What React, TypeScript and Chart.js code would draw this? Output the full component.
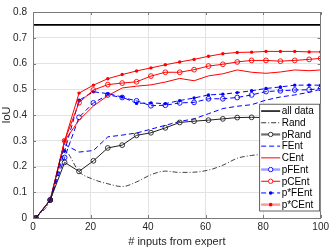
import React, { useEffect, useRef } from "react";
import { Chart, registerables } from "chart.js";
Chart.register(...registerables);

const xInputs = [1, 6, 11, 16, 21, 26, 31, 36, 41, 46, 51, 56, 61, 66, 71, 76, 81, 86, 91, 96, 100];
const allDataLevel = 0.75;
const allDataX = [0, 100];
const randVals = [0, 0.07, 0.26, 0.18, 0.15, 0.133, 0.122, 0.14, 0.168, 0.182, 0.177, 0.178, 0.186, 0.205, 0.232, 0.243, 0.248, 0.255, 0.265, 0.28, 0.293];
const pRandVals = [0, 0.07, 0.216, 0.181, 0.222, 0.272, 0.283, 0.321, 0.331, 0.35, 0.371, 0.376, 0.38, 0.385, 0.39, 0.391, 0.39, 0.39, 0.388, 0.386, 0.383];
const fEntVals = [0, 0.07, 0.285, 0.256, 0.262, 0.315, 0.322, 0.33, 0.345, 0.36, 0.375, 0.385, 0.405, 0.425, 0.434, 0.44, 0.458, 0.47, 0.478, 0.488, 0.5];
const cEntVals = [0, 0.07, 0.3, 0.38, 0.435, 0.475, 0.505, 0.512, 0.517, 0.528, 0.542, 0.533, 0.552, 0.56, 0.575, 0.566, 0.562, 0.567, 0.575, 0.572, 0.575];
const pFEntVals = [0, 0.07, 0.235, 0.391, 0.447, 0.478, 0.468, 0.455, 0.436, 0.438, 0.447, 0.449, 0.463, 0.463, 0.468, 0.478, 0.491, 0.494, 0.497, 0.498, 0.503];
const pCEntVals = [0, 0.07, 0.3, 0.448, 0.497, 0.518, 0.524, 0.529, 0.551, 0.566, 0.566, 0.576, 0.59, 0.597, 0.606, 0.612, 0.612, 0.609, 0.612, 0.616, 0.62];
const psFEntVals = [0, 0.07, 0.26, 0.457, 0.49, 0.483, 0.47, 0.445, 0.447, 0.444, 0.456, 0.466, 0.478, 0.481, 0.487, 0.494, 0.503, 0.509, 0.516, 0.516, 0.516];
const psCEntVals = [0, 0.07, 0.3, 0.485, 0.516, 0.541, 0.557, 0.571, 0.583, 0.595, 0.606, 0.616, 0.628, 0.638, 0.643, 0.644, 0.647, 0.647, 0.647, 0.645, 0.645];

const xTicks = [0, 20, 40, 60, 80, 100];
const yTicks = [0, 0.1, 0.2, 0.3, 0.4, 0.5, 0.6, 0.7, 0.8];
const yTickLabels = ["0", "0.1", "0.2", "0.3", "0.4", "0.5", "0.6", "0.7", "0.8"];
const xTitle = "# inputs from expert";
const yTitle = "IoU";

const RED = "#ff0000";
const BLUE = "#0000ff";
const BLACK = "#000000";
const FONT = "'Liberation Sans', Arial, Helvetica, sans-serif";

const pts = (vals: number[]) => vals.map((v, i) => ({ x: xInputs[i], y: v }));

type LegendItem = {
  label: string;
  color: string;
  width: number;
  dash: number[];
  marker: "none" | "hollow" | "filled";
  markerColor: string;
};

const legendItems: LegendItem[] = [
  { label: "all data", color: BLACK, width: 1.5, dash: [], marker: "none", markerColor: BLACK },
  { label: "Rand", color: BLACK, width: 0.8, dash: [5, 2, 1, 2], marker: "none", markerColor: BLACK },
  { label: "pRand", color: "#6e6e6e", width: 2.2, dash: [], marker: "hollow", markerColor: "#222" },
  { label: "FEnt", color: BLUE, width: 1, dash: [5, 3], marker: "none", markerColor: BLUE },
  { label: "CEnt", color: RED, width: 1, dash: [], marker: "none", markerColor: RED },
  { label: "pFEnt", color: "#a0a0ff", width: 2.5, dash: [], marker: "hollow", markerColor: BLUE },
  { label: "pCEnt", color: RED, width: 1, dash: [], marker: "hollow", markerColor: RED },
  { label: "p*FEnt", color: BLUE, width: 1, dash: [5, 3], marker: "filled", markerColor: BLUE },
  { label: "p*CEnt", color: "#ff9a9a", width: 2.5, dash: [], marker: "filled", markerColor: RED },
];

const frameAndLegend = {
  id: "frameAndLegend",
  afterDatasetsDraw(chart: any) {
    const { ctx, chartArea: ca, scales } = chart;
    ctx.save();
    // frame
    ctx.strokeStyle = "#7a7a7a";
    ctx.lineWidth = 1;
    ctx.setLineDash([]);
    ctx.strokeRect(Math.round(ca.left) + 0.5, Math.round(ca.top) + 0.5, Math.round(ca.right - ca.left) - 1, Math.round(ca.bottom - ca.top));
    // inward ticks
    const tl = 3;
    ctx.beginPath();
    xTicks.forEach((t) => {
      const px = Math.round(scales.x.getPixelForValue(t)) + 0.5;
      ctx.moveTo(px, ca.bottom);
      ctx.lineTo(px, ca.bottom - tl);
      ctx.moveTo(px, ca.top);
      ctx.lineTo(px, ca.top + tl);
    });
    yTicks.forEach((t) => {
      const py = Math.round(scales.y.getPixelForValue(t)) + 0.5;
      ctx.moveTo(ca.left, py);
      ctx.lineTo(ca.left + tl, py);
      ctx.moveTo(ca.right, py);
      ctx.lineTo(ca.right - tl, py);
    });
    ctx.stroke();

    // legend
    const rowH = 11.7;
    const boxW = 61;
    const boxH = legendItems.length * rowH + 2.5;
    const boxRight = ca.right - 0.5;
    const boxBottom = ca.bottom - 6.5;
    const bx = boxRight - boxW;
    const by = boxBottom - boxH;
    ctx.fillStyle = "#ffffff";
    ctx.fillRect(bx, by, boxW, boxH);
    ctx.strokeStyle = "#3a3a3a";
    ctx.lineWidth = 0.8;
    ctx.strokeRect(bx + 0.5, by + 0.5, boxW - 1, boxH - 1);
    ctx.font = `10px ${FONT}`;
    ctx.textBaseline = "middle";
    ctx.textAlign = "left";
    legendItems.forEach((it, i) => {
      const cy = by + 1.5 + rowH * (i + 0.5);
      const x0 = bx + 2;
      const x1 = bx + 21;
      ctx.strokeStyle = it.color;
      ctx.lineWidth = it.width;
      ctx.setLineDash(it.dash);
      ctx.beginPath();
      ctx.moveTo(x0, cy);
      ctx.lineTo(x1, cy);
      ctx.stroke();
      ctx.setLineDash([]);
      const mx = (x0 + x1) / 2;
      if (it.marker === "hollow") {
        ctx.strokeStyle = it.markerColor;
        ctx.lineWidth = 0.9;
        ctx.beginPath();
        ctx.arc(mx, cy, 2.2, 0, Math.PI * 2);
        ctx.fillStyle = "#ffffff";
        ctx.fill();
        ctx.stroke();
      } else if (it.marker === "filled") {
        ctx.fillStyle = it.markerColor;
        ctx.beginPath();
        ctx.arc(mx, cy, 1.8, 0, Math.PI * 2);
        ctx.fill();
      }
      ctx.fillStyle = "#000000";
      ctx.fillText(it.label, x1 + 1.5, cy + 0.5);
    });
    ctx.restore();
  },
};

export default function App() {
  const ref = useRef<HTMLCanvasElement | null>(null);
  useEffect(() => {
    if (!ref.current) return;
    const lineDs = (label: string, vals: number[], color: string, dash: number[], marker: "none" | "hollow" | "filled", extra: any = {}) => ({
      label,
      data: pts(vals),
      borderColor: color,
      borderWidth: 1,
      borderDash: dash,
      backgroundColor: marker === "filled" ? color : "rgba(0,0,0,0)",
      pointBorderColor: color,
      pointBackgroundColor: marker === "filled" ? color : "rgba(0,0,0,0)",
      pointRadius: marker === "none" ? 0 : marker === "hollow" ? 2.4 : 1.7,
      pointBorderWidth: marker === "hollow" ? 0.9 : 0,
      pointHoverRadius: 0,
      fill: false,
      tension: 0,
      ...extra,
    });
    const chart = new Chart(ref.current, {
      type: "line",
      data: {
        datasets: [
          {
            label: "all data",
            data: allDataX.map((x) => ({ x, y: allDataLevel })),
            borderColor: BLACK,
            borderWidth: 1.6,
            pointRadius: 0,
            fill: false,
          } as any,
          lineDs("Rand", randVals, "#111111", [5, 2, 1, 2], "none", { borderWidth: 0.8, cubicInterpolationMode: "monotone" }),
          lineDs("pRand", pRandVals, "#222222", [], "hollow"),
          lineDs("FEnt", fEntVals, BLUE, [5, 3], "none"),
          lineDs("CEnt", cEntVals, RED, [], "none"),
          lineDs("pFEnt", pFEntVals, BLUE, [5, 3], "hollow"),
          lineDs("pCEnt", pCEntVals, RED, [], "hollow"),
          lineDs("p*FEnt", psFEntVals, BLUE, [5, 3], "filled"),
          lineDs("p*CEnt", psCEntVals, RED, [], "filled"),
        ],
      },
      options: {
        animation: false,
        responsive: false,
        maintainAspectRatio: false,
        layout: { padding: { top: 4, right: 9, left: 0, bottom: 0 } },
        plugins: { legend: { display: false }, tooltip: { enabled: false } },
        scales: {
          x: {
            type: "linear",
            min: 0,
            max: 100,
            afterBuildTicks: (s: any) => {
              s.ticks = xTicks.map((v) => ({ value: v }));
            },
            afterFit: (s: any) => {
              s.height = 31;
            },
            ticks: {
              padding: 3,
              color: "#262626",
              font: { family: FONT, size: 10 },
              maxRotation: 0,
              callback: (v: any) => String(v),
            },
            grid: { color: "#e3e3e3", lineWidth: 1, drawTicks: false },
            border: { display: false },
            title: {
              display: true,
              text: xTitle,
              color: "#262626",
              font: { family: FONT, size: 11 },
              padding: { top: 0, bottom: 0 },
            },
          },
          y: {
            type: "linear",
            min: 0,
            max: 0.8,
            afterBuildTicks: (s: any) => {
              s.ticks = yTicks.map((v) => ({ value: v }));
            },
            afterFit: (s: any) => {
              s.width = 33;
            },
            ticks: {
              padding: 6,
              color: "#262626",
              font: { family: FONT, size: 10 },
              callback: (v: any) => {
                const i = yTicks.findIndex((t) => Math.abs(t - Number(v)) < 1e-6);
                return i >= 0 ? yTickLabels[i] : "";
              },
            },
            grid: { color: "#e3e3e3", lineWidth: 1, drawTicks: false },
            border: { display: false },
            title: {
              display: true,
              text: yTitle,
              color: "#262626",
              font: { family: FONT, size: 11 },
              padding: { top: 0, bottom: 0 },
            },
          },
        },
      },
      plugins: [frameAndLegend],
    } as any);
    return () => chart.destroy();
  }, []);
  return (
    <div style={{ position: "fixed", left: 0, top: 0, width: 332, height: 249, background: "#ffffff" }}>
      <canvas ref={ref} width={332} height={249} style={{ display: "block", width: 332, height: 249 }} />
    </div>
  );
}
